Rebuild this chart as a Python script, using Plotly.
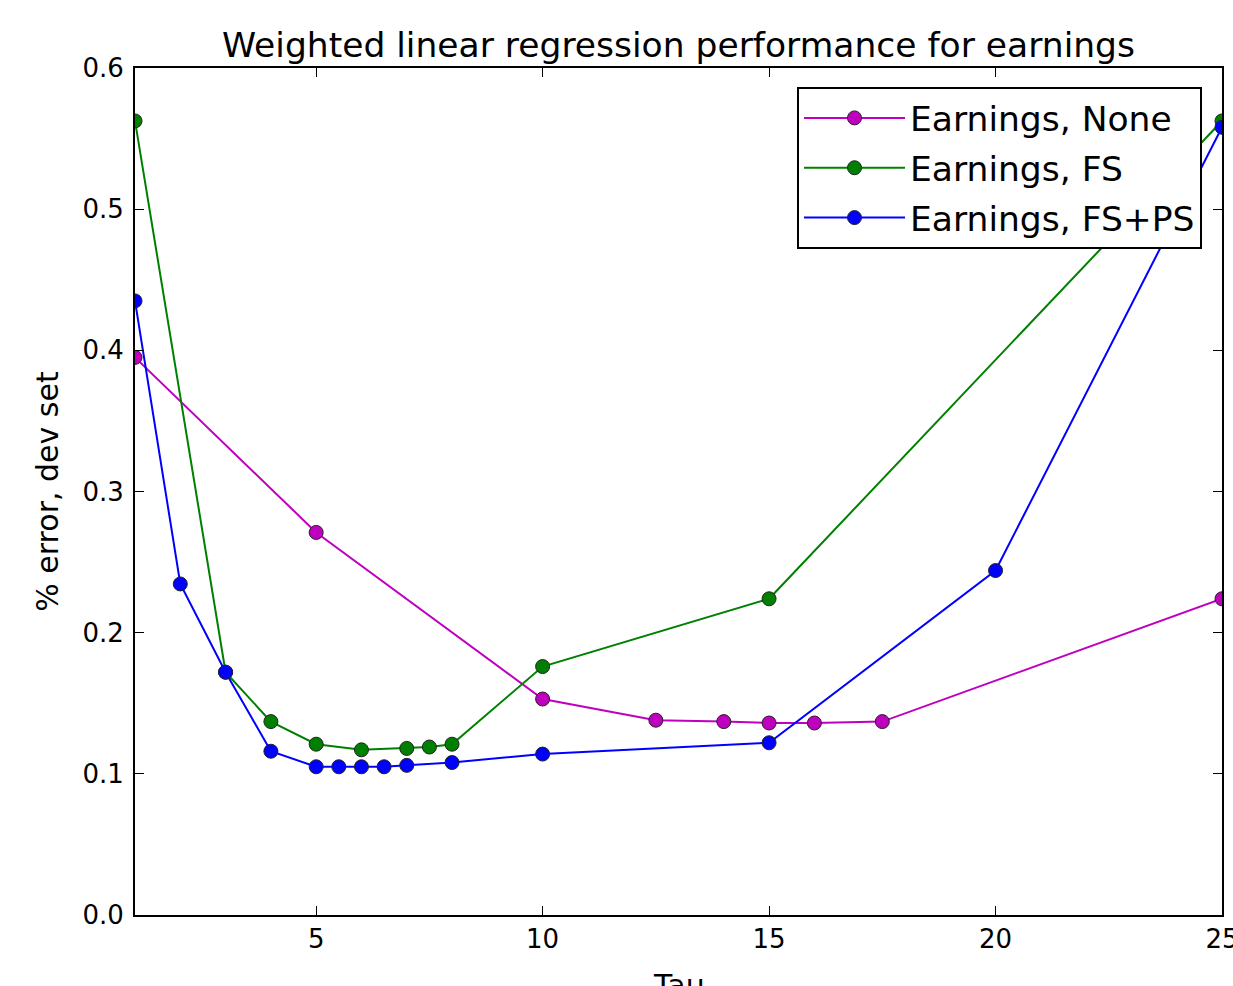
import plotly.graph_objects as go

tau_none = [1, 5, 10, 12.5, 14, 15, 16, 17.5, 25]
err_none = [0.395, 0.271, 0.153, 0.138, 0.137, 0.136, 0.136, 0.137, 0.224]

tau_fs = [1, 3, 4, 5, 6, 7, 7.5, 8, 10, 15, 25]
err_fs = [0.5625, 0.172, 0.137, 0.121, 0.117, 0.118, 0.119, 0.121, 0.176, 0.224, 0.5625]

tau_fsps = [1, 2, 3, 4, 5, 5.5, 6, 6.5, 7, 8, 10, 15, 20, 25]
err_fsps = [0.435, 0.2345, 0.172, 0.116, 0.105, 0.105, 0.105, 0.105, 0.106, 0.108, 0.114, 0.122, 0.244, 0.558]

x_ticks = [5, 10, 15, 20, 25]
y_ticks = [0, 0.1, 0.2, 0.3, 0.4, 0.5, 0.6]

series = [
    ("Earnings, None", tau_none, err_none, "#BF00BF"),
    ("Earnings, FS", tau_fs, err_fs, "#008000"),
    ("Earnings, FS+PS", tau_fsps, err_fsps, "#0000FF"),
]

FONT = "DejaVu Sans"
fig = go.Figure()
for i, (name, x, y, c) in enumerate(series):
    fig.add_trace(go.Scatter(
        x=x, y=y, name=name, mode="lines+markers", legendgroup=f"g{i}",
        line=dict(color=c, width=2),
        marker=dict(color=c, size=14, line=dict(color="#222222", width=1)),
    ))

axis_common = dict(
    showgrid=False, zeroline=False, showline=True, linecolor="black", linewidth=2,
    mirror="ticks", ticks="inside", ticklen=9, tickwidth=1, tickcolor="black",
    tickfont=dict(family=FONT, size=26, color="black"), automargin=False,
    ticklabeloverflow="allow",
)

fig.update_layout(
    width=1233, height=986,
    paper_bgcolor="white", plot_bgcolor="white",
    margin=dict(l=135, r=11, t=68, b=71),
    font=dict(family=FONT, color="black"),
    title=dict(text="Weighted linear regression performance for earnings",
               x=0.5, xanchor="center", xref="paper", y=1 - 45 / 986, yanchor="middle",
               font=dict(family=FONT, size=34.5, color="black")),
    xaxis=dict(range=[1, 25], tickvals=x_ticks, ticklabelstandoff=0, **axis_common),
    yaxis=dict(range=[0, 0.6], tickvals=y_ticks, tickformat=".1f",
               ticklabelstandoff=4,
               title=dict(text="% error, dev set", font=dict(family=FONT, size=30)), **axis_common),
    legend=dict(x=(1202 - 135) / 1087, y=0.9776, xanchor="right", yanchor="top",
                bgcolor="white", bordercolor="black", borderwidth=2,
                font=dict(family=FONT, size=34.5, color="black"), itemwidth=101,
                tracegroupgap=2),
    annotations=[dict(text="Tau", xref="paper", yref="paper", x=0.5, y=(915 - 985) / 847,
                      xanchor="center", yanchor="middle", showarrow=False,
                      font=dict(family=FONT, size=30, color="black"))],
)

fig.write_html("out.html", config={"displayModeBar": False},
               post_script="document.body.style.margin='0';document.body.style.overflow='hidden';")
